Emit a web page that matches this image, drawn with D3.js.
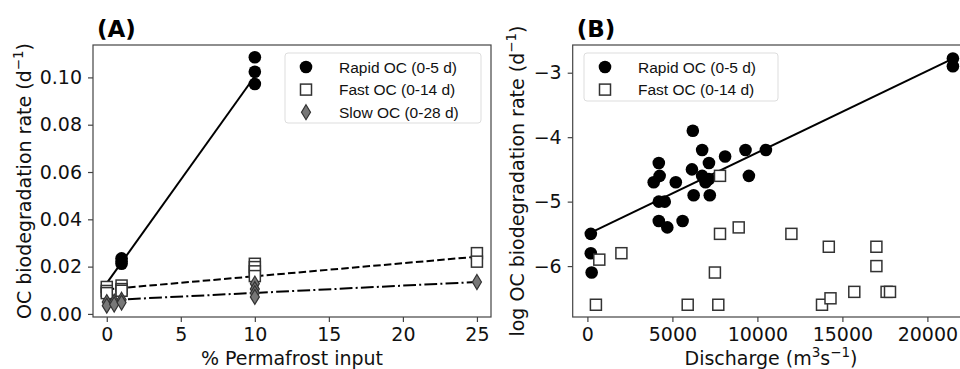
<!DOCTYPE html>
<html>
<head>
<meta charset="utf-8">
<script src="https://cdn.jsdelivr.net/npm/d3@7"></script>
<style>
  body { margin: 0; background: #fff; }
  svg { display: block; }
</style>
</head>
<body>
<svg id="chart" width="960" height="369"></svg>
<script>
// ---- panel A: % permafrost input vs rate ----
let rapidA = [[1, 0.0235], [1, 0.0222], [1, 0.0212], [10, 0.1085], [10, 0.1024], [10, 0.0972]];
let fastA = [[0, 0.0114], [0, 0.0097], [0, 0.0088], [1, 0.0120], [1, 0.0105], [1, 0.0098],
  [10, 0.0212], [10, 0.0198], [10, 0.0180], [10, 0.0160], [25, 0.0257], [25, 0.0221]];
let slowA = [[0, 0.0050], [0, 0.0035], [0.5, 0.0052], [0.5, 0.0040], [1, 0.0060], [1, 0.0048],
  [10, 0.0128], [10, 0.0105], [10, 0.0088], [10, 0.0072], [25, 0.0135]];
// fitted lines (end points)
let rapidFitA = [[0, 0.0130], [10, 0.1005]];
let fastFitA = [[0, 0.0104], [25, 0.0242]];
let slowFitA = [[0, 0.0058], [25, 0.0135]];
let xTicksA = [0, 5, 10, 15, 20, 25];
let yTicksA = [0, 0.02, 0.04, 0.06, 0.08, 0.10];
let legendA = ['Rapid OC (0-5 d)', 'Fast OC (0-14 d)', 'Slow OC (0-28 d)'];

// ---- panel B: discharge vs log rate ----
let rapidB = [[200, -5.5], [200, -5.8], [250, -6.1], [3900, -4.7], [4200, -4.4], [4250, -4.6],
  [4200, -5.0], [4550, -5.0], [4200, -5.3], [4700, -5.4], [5200, -4.7], [5600, -5.3],
  [6200, -3.9], [6150, -4.5], [6250, -4.9], [6750, -4.2], [7150, -4.4], [6750, -4.6],
  [6950, -4.7], [7150, -4.65], [7200, -4.9], [8100, -4.3], [9300, -4.2], [10500, -4.2],
  [9500, -4.6], [21500, -2.78], [21500, -2.9]];
let fastB = [[500, -6.6], [700, -5.9], [2000, -5.8], [5900, -6.6], [7500, -6.1], [7700, -6.6],
  [7800, -5.5], [7800, -4.6], [8900, -5.4], [12000, -5.5], [13800, -6.6], [14200, -5.7],
  [14300, -6.5], [15700, -6.4], [17000, -5.7], [17000, -6.0], [17600, -6.4], [17800, -6.4]];
let rapidFitB = [[200, -5.48], [21500, -2.78]];
let xTicksB = [0, 5000, 10000, 15000, 20000];
let yTicksB = [-6, -5, -4, -3];
let legendB = ['Rapid OC (0-5 d)', 'Fast OC (0-14 d)'];

const svg = d3.select('#chart');
const axisFont = 'DejaVu Sans, sans-serif';
const legFont = 'Liberation Sans, Arial, sans-serif';
const frameCol = '#444';

svg.append('rect').attr('width', 960).attr('height', 369).attr('fill', '#fff');

function drawCircle(g, x, y){
  g.append('circle').attr('cx', x).attr('cy', y).attr('r', 6.3).attr('fill', '#000');
}
function drawSquare(g, x, y){
  g.append('rect').attr('x', x - 5.5).attr('y', y - 5.5).attr('width', 11).attr('height', 11)
    .attr('fill', '#fff').attr('stroke', '#333').attr('stroke-width', 1.5);
}
function drawDiamond(g, x, y){
  g.append('path').attr('d', `M${x},${y - 7.5}L${x + 4.5},${y}L${x},${y + 7.5}L${x - 4.5},${y}Z`)
    .attr('fill', '#777').attr('stroke', '#333').attr('stroke-width', 1.2);
}

function drawPanel(opts){
  let g = svg.append('g');
  let x = opts.x, y = opts.y;
  let [x0, x1] = x.range();
  let [y0, y1] = y.range();

  // axes
  let xa = g.append('g').attr('transform', `translate(0,${y0})`)
    .call(d3.axisBottom(x).tickValues(opts.xTicks).tickFormat(opts.xFormat).tickSize(5).tickPadding(6));
  let ya = g.append('g').attr('transform', `translate(${x0},0)`)
    .call(d3.axisLeft(y).tickValues(opts.yTicks).tickFormat(opts.yFormat).tickSize(5).tickPadding(6));
  [xa, ya].forEach(a => {
    a.select('.domain').remove();
    a.selectAll('line').attr('stroke', frameCol).attr('stroke-width', 1.2);
    a.selectAll('text').attr('font-family', axisFont).attr('font-size', 19).attr('fill', '#111');
  });

  // lines
  let line = d3.line().x(d => x(d[0])).y(d => y(d[1]));
  opts.fits.forEach(f => {
    g.append('path').attr('d', line(f.data)).attr('fill', 'none')
      .attr('stroke', '#000').attr('stroke-width', 2)
      .attr('stroke-dasharray', f.dash);
  });

  // points
  opts.series.forEach(s => {
    s.data.forEach(d => s.mark(g, x(d[0]), y(d[1])));
  });

  // frame
  g.append('rect').attr('x', x0).attr('y', y1).attr('width', x1 - x0).attr('height', y0 - y1)
    .attr('fill', 'none').attr('stroke', frameCol).attr('stroke-width', 1.2);

  // legend
  let leg = opts.legend;
  g.append('rect').attr('x', leg.x).attr('y', leg.y).attr('width', leg.w).attr('height', leg.h)
    .attr('rx', 3).attr('fill', '#fff').attr('fill-opacity', 0.85)
    .attr('stroke', '#ddd').attr('stroke-width', 1);
  leg.labels.forEach((lab, i) => {
    let cy = leg.y + 14 + i * 22.6;
    opts.series[i].mark(g, leg.x + 21, cy);
    g.append('text').attr('x', leg.x + 54).attr('y', cy).attr('dy', '0.36em')
      .attr('font-family', legFont).attr('font-size', 15.5).attr('fill', '#111').text(lab);
  });

  // panel title
  g.append('text').attr('x', x0 + 4).attr('y', 37).attr('font-family', axisFont)
    .attr('font-weight', 'bold').attr('font-size', 23).attr('fill', '#000').text(opts.title);

  // x label
  let xl = g.append('text').attr('x', opts.xLabelX).attr('y', opts.xLabelY).attr('text-anchor', 'middle')
    .attr('font-family', axisFont).attr('font-size', 19).attr('fill', '#111');
  opts.xLabel(xl);

  // y label
  let yl = g.append('text').attr('transform', `translate(${opts.yLabelX},${(y0 + y1) / 2}) rotate(-90)`)
    .attr('text-anchor', 'middle').attr('font-family', axisFont).attr('font-size', 19).attr('fill', '#111');
  yl.append('tspan').text(opts.yLabel + ' (d');
  yl.append('tspan').attr('dy', -8).attr('font-size', 13.5).text('\u22121');
  yl.append('tspan').attr('dy', 8).text(')');
}

drawPanel({
  title: '(A)',
  x: d3.scaleLinear().domain([-0.93, 25.95]).range([93, 491]),
  y: d3.scaleLinear().domain([-0.0013, 0.1137]).range([317, 45]),
  xTicks: xTicksA, yTicks: yTicksA,
  xFormat: d3.format('d'), yFormat: d3.format('.2f'),
  fits: [
    { data: rapidFitA, dash: null },
    { data: fastFitA, dash: '7.5,3.2' },
    { data: slowFitA, dash: '12.8,3.2,2,3.2' }
  ],
  series: [
    { data: rapidA, mark: drawCircle },
    { data: fastA, mark: drawSquare },
    { data: slowA, mark: drawDiamond }
  ],
  legend: { x: 285, y: 53, w: 196, h: 70, labels: legendA },
  xLabelX: 292, xLabelY: 364.5,
  xLabel: t => t.text('% Permafrost input'),
  yLabelX: 30.5, yLabel: 'OC biodegradation rate'
});

drawPanel({
  title: '(B)',
  x: d3.scaleLinear().domain([-865, 22565]).range([572.7, 971]),
  y: d3.scaleLinear().domain([-6.79, -2.57]).range([317, 45]),
  xTicks: xTicksB, yTicks: yTicksB,
  xFormat: d3.format('d'), yFormat: d3.format('d'),
  fits: [{ data: rapidFitB, dash: null }],
  series: [
    { data: rapidB, mark: drawCircle },
    { data: fastB, mark: drawSquare }
  ],
  legend: { x: 584, y: 53, w: 194, h: 48, labels: legendB },
  xLabelX: 771, xLabelY: 365,
  xLabel: t => {
    t.append('tspan').text('Discharge (m');
    t.append('tspan').attr('dy', -8).attr('font-size', 13.5).text('3');
    t.append('tspan').attr('dy', 8).text('s');
    t.append('tspan').attr('dy', -8).attr('font-size', 13.5).text('\u22121');
    t.append('tspan').attr('dy', 8).text(')');
  },
  yLabelX: 523.5, yLabel: 'log OC biodegradation rate'
});
</script>
</body>
</html>
